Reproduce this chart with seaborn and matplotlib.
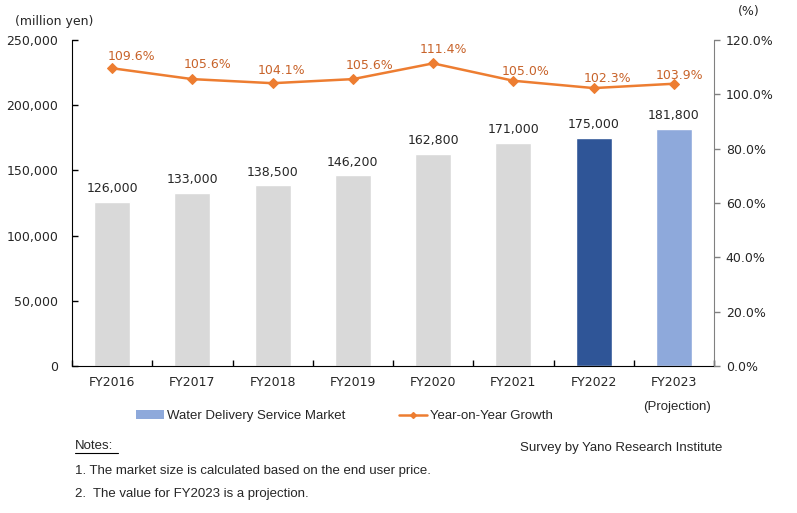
import matplotlib
matplotlib.use("Agg")
import matplotlib.pyplot as plt
import seaborn as sns
import numpy as np
from matplotlib.lines import Line2D
from matplotlib.patches import Patch
from matplotlib.ticker import FuncFormatter, MultipleLocator

years = ["FY2016", "FY2017", "FY2018", "FY2019", "FY2020", "FY2021", "FY2022", "FY2023"]
market = [126000, 133000, 138500, 146200, 162800, 171000, 175000, 181800]
growth = [109.6, 105.6, 104.1, 105.6, 111.4, 105.0, 102.3, 103.9]
bar_colors = ["#D9D9D9", "#D9D9D9", "#D9D9D9", "#D9D9D9", "#D9D9D9", "#D9D9D9", "#2F5597", "#8EA9DB"]

# label offsets (pixels) for the growth labels, as placed in the reference
growth_label_dx = [19, 15, 9, 17, 10, 12, 14, 6]
growth_label_dy = [12, 15, 13, 14, 14, 9, 10, 8]

sns.set_style("white")
plt.rcParams["font.family"] = ["DejaVu Sans"]

fig = plt.figure(figsize=(7.97, 5.13), dpi=100)
ax = fig.add_axes([72/797, 1-366/513, (714-72)/797, (366-40)/513])

sns.barplot(x=years, y=market, hue=years, palette=bar_colors, legend=False,
            width=0.45, ax=ax, saturation=1)
ax.set_ylim(0, 250000)
ax.set_xlim(-0.5, 7.5)
ax.yaxis.set_major_locator(MultipleLocator(50000))
ax.yaxis.set_major_formatter(FuncFormatter(lambda v, p: f"{int(v):,}"))
ax.tick_params(axis="y", left=True, direction="in", length=4, width=1, color="black",
               labelsize=9, pad=10)
ax.tick_params(axis="x", which="major", bottom=False, direction="in", length=0,
               labelsize=9, pad=7)
ax.set_xticks(np.arange(-0.5, 8.5, 1), minor=True)
ax.tick_params(axis="x", which="minor", bottom=True, direction="in", length=4,
               width=1, color="black")
ax.set_xlabel("")
ax.set_ylabel("")
for s in ["top", "right"]:
    ax.spines[s].set_visible(False)
ax.spines["left"].set_color("black")
ax.spines["bottom"].set_color("black")

for i, v in enumerate(market):
    ax.text(i, v + 5000, f"{v:,}", ha="center", va="bottom", fontsize=9, color="#262626")

ax2 = ax.twinx()
sns.lineplot(x=years, y=growth, ax=ax2, color="#ED7D31", marker="D", markersize=5,
             markeredgecolor="#ED7D31", linewidth=1.8, sort=False)
ax2.set_ylim(0, 120)
ax2.yaxis.set_major_locator(MultipleLocator(20))
ax2.yaxis.set_major_formatter(FuncFormatter(lambda v, p: f"{v:.1f}%"))
ax2.tick_params(axis="y", right=True, direction="out", length=4, width=1, color="#808080",
                labelsize=9, pad=4.5)
ax2.set_ylabel("")
for s in ["top", "left", "bottom"]:
    ax2.spines[s].set_visible(False)
ax2.spines["right"].set_color("#808080")
for i, g in enumerate(growth):
    ax2.annotate(f"{g:.1f}%", xy=(i, g), xytext=(growth_label_dx[i], growth_label_dy[i]),
                 textcoords="offset pixels", ha="center", va="center", fontsize=9,
                 color="#C8632A")

fig.text(15/797, 1-21/513, "(million yen)", fontsize=9, va="center", ha="left")
fig.text(749/797, 1-12/513, "(%)", fontsize=9, va="center", ha="center")
fig.text(677/797, 1-407/513, "(Projection)", fontsize=9.5, va="center", ha="center",
         family="Liberation Sans")

handles = [Patch(facecolor="#8EA9DB", edgecolor="none"),
           Line2D([0], [0], color="#ED7D31", marker="D", markersize=3, linewidth=1.8)]
fig.legend(handles, ["Water Delivery Service Market", "Year-on-Year Growth"],
           loc="center left", bbox_to_anchor=(136/797, 1-416/513), ncol=2, frameon=False,
           prop={"family": "Liberation Sans", "size": 9.5}, handlelength=2.1,
           handleheight=0.6, columnspacing=4.1, handletextpad=0.25,
           borderpad=0, borderaxespad=0)

fig.text(75/797, 1-446/513, "Notes:", fontsize=9.5, va="center", ha="left",
         family="Liberation Sans")
fig.add_artist(Line2D([75/797, 118/797], [1-453/513, 1-453/513], color="black", linewidth=0.8))
fig.text(722/797, 1-448/513, "Survey by Yano Research Institute", fontsize=9.5,
         va="center", ha="right", family="Liberation Sans")
fig.text(75/797, 1-471/513, "1. The market size is calculated based on the end user price.",
         fontsize=9.5, va="center", ha="left", family="Liberation Sans")
fig.text(75/797, 1-494/513, "2.  The value for FY2023 is a projection.",
         fontsize=9.5, va="center", ha="left", family="Liberation Sans")

fig.savefig("out.png", dpi=100)
